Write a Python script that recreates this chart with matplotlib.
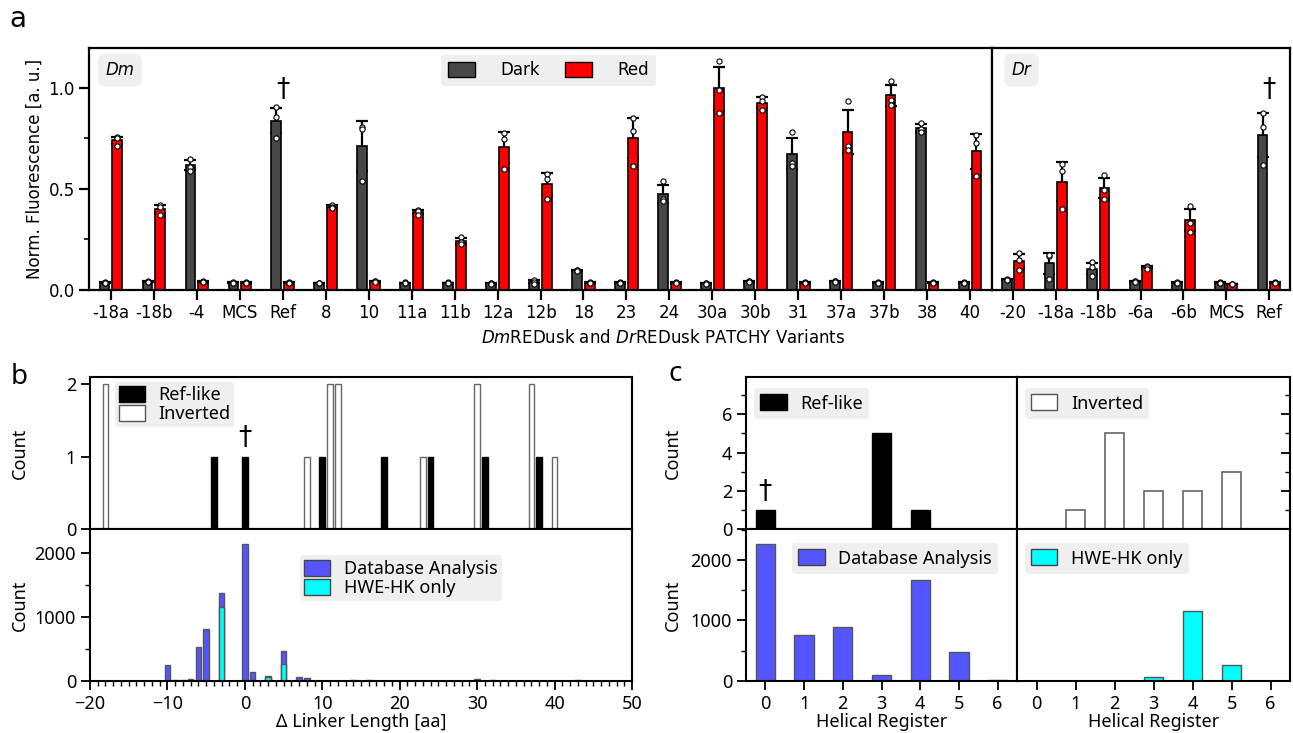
import numpy as np
import matplotlib.pyplot as plt
from matplotlib.patches import Patch
from matplotlib.ticker import MultipleLocator

# ---- panel a: three replicates per variant (dark / red) ----
dm_labels = ['-18a', '-18b', '-4', 'MCS', 'Ref', '8', '10', '11a', '11b', '12a', '12b',
             '18', '23', '24', '30a', '30b', '31', '37a', '37b', '38', '40']
dm_dark = [[0.036, 0.034, 0.035], [0.042, 0.040, 0.039], [0.65, 0.61, 0.59],
           [0.036, 0.035, 0.034], [0.907, 0.855, 0.754], [0.034, 0.033, 0.032],
           [0.807, 0.795, 0.539], [0.036, 0.034, 0.033], [0.036, 0.034, 0.033],
           [0.033, 0.032, 0.030], [0.05, 0.04, 0.03], [0.10, 0.096, 0.094],
           [0.037, 0.035, 0.034], [0.539, 0.448, 0.438], [0.033, 0.031, 0.030],
           [0.044, 0.042, 0.040], [0.783, 0.626, 0.615], [0.045, 0.043, 0.040],
           [0.037, 0.035, 0.034], [0.828, 0.798, 0.783], [0.037, 0.035, 0.034]]
dm_red = [[0.755, 0.75, 0.715], [0.42, 0.41, 0.37], [0.042, 0.040, 0.038],
          [0.036, 0.035, 0.034], [0.036, 0.035, 0.034], [0.42, 0.41, 0.405],
          [0.045, 0.042, 0.038], [0.395, 0.39, 0.37], [0.26, 0.235, 0.225],
          [0.775, 0.745, 0.598], [0.574, 0.547, 0.45], [0.036, 0.035, 0.034],
          [0.85, 0.787, 0.615], [0.036, 0.035, 0.034], [1.134, 0.988, 0.874],
          [0.957, 0.936, 0.89], [0.037, 0.035, 0.034], [0.937, 0.714, 0.694],
          [1.036, 0.942, 0.916], [0.036, 0.035, 0.034], [0.765, 0.729, 0.565]]

dr_labels = ['-20', '-18a', '-18b', '-6a', '-6b', 'MCS', 'Ref']
dr_dark = [[0.053, 0.050, 0.049], [0.165, 0.17, 0.055], [0.136, 0.111, 0.068],
           [0.043, 0.041, 0.039], [0.037, 0.035, 0.034], [0.036, 0.035, 0.034],
           [0.876, 0.808, 0.62]]
dr_red = [[0.182, 0.149, 0.098], [0.621, 0.588, 0.40], [0.569, 0.494, 0.451],
          [0.12, 0.115, 0.105], [0.417, 0.329, 0.288], [0.029, 0.028, 0.027],
          [0.036, 0.035, 0.034]]

# ---- panel b: linker length differences ----
ref_dl = [-4, 0, 10, 18, 24, 31, 38]
ref_n = [1, 1, 1, 1, 1, 1, 1]
inv_dl = [-18, 8, 11, 12, 23, 30, 37, 40]
inv_n = [2, 1, 2, 2, 1, 2, 2, 1]

db_dl = [-10, -9, -8, -7, -6, -5, -3, 0, 1, 3, 5, 7, 8, 14, 16, 30, 32, 43]
db_n = [246, 15, 15, 25, 529, 811, 1372, 2130, 147, 80, 461, 60, 40, 10, 20, 25, 10, 15]
hk_dl = [-3, 3, 5]
hk_n = [1150, 70, 260]

# ---- panel c: helical register ----
registers = [0, 1, 2, 3, 4, 5, 6]
ref_reg = [1, 0, 0, 5, 1, 0, 0]
inv_reg = [0, 1, 5, 2, 2, 3, 0]
db_reg = [2270, 762, 884, 94, 1663, 486, 22]
hk_reg = [0, 0, 0, 72, 1155, 265, 0]

DARK = '#474747'
RED = '#ff0000'
BLUE = '#5555ff'
CYAN = '#00ffff'
BOXC = '#efefef'
FB = 'Noto Sans'
FSB = 13

W, H = 1293, 733
fig = plt.figure(figsize=(W / 100, H / 100), dpi=100)


def rect(x0, y0, x1, y1):
    return [x0 / W, 1 - y1 / H, (x1 - x0) / W, (y1 - y0) / H]


def spines(ax, lw=1.6):
    for s in ax.spines.values():
        s.set_linewidth(lw)


def pairs(ax, labels, dark, red):
    x = np.arange(len(labels))
    for reps, off, col in ((dark, -0.145, DARK), (red, 0.145, RED)):
        reps = np.asarray(reps)
        mean = reps.mean(axis=1)
        sd = reps.std(axis=1)
        ax.errorbar(x + off, mean, yerr=sd, fmt='none', ecolor='black',
                    elinewidth=1.6, capsize=4.2, capthick=1.6, zorder=1)
        ax.bar(x + off, mean, width=0.23, color=col, edgecolor='black',
               linewidth=1.2, zorder=2)
        ax.scatter(np.repeat(x + off, 3), reps.ravel(), s=14, c='white',
                   edgecolors='black', linewidths=0.8, zorder=3)
    ax.set_xticks(x)
    ax.set_xticklabels(labels)
    ax.set_xlim(-0.5, len(labels) - 0.5)
    ax.set_ylim(0, 1.2)
    ax.yaxis.set_major_locator(MultipleLocator(0.5))
    ax.yaxis.set_minor_locator(MultipleLocator(0.25))
    ax.tick_params(which='major', direction='out', length=7, width=1.6, labelsize=12)
    ax.tick_params(which='minor', direction='out', length=3.5, width=1.2)
    spines(ax)


# ---------------- panel a ----------------
ax_dm = fig.add_axes(rect(89.3, 47.7, 991.7, 289.7))
ax_dr = fig.add_axes(rect(991.7, 47.7, 1290, 289.7))
pairs(ax_dm, dm_labels, dm_dark, dm_red)
pairs(ax_dr, dr_labels, dr_dark, dr_red)
ax_dr.tick_params(axis='y', which='both', left=False, labelleft=False)

ax_dm.set_ylabel('Norm. Fluorescence [a. u.]', fontsize=12)
ax_dm.yaxis.set_label_coords(-0.05, 0.5)
ax_dm.text(0.034, 0.908, 'Dm', style='italic', fontsize=12, ha='center', va='center',
           transform=ax_dm.transAxes,
           bbox=dict(boxstyle='round,pad=0.45', fc=BOXC, ec='none'))
ax_dr.text(0.1, 0.908, 'Dr', style='italic', fontsize=12, ha='center', va='center',
           transform=ax_dr.transAxes,
           bbox=dict(boxstyle='round,pad=0.45', fc=BOXC, ec='none'))
ax_dm.text(dm_labels.index('Ref'), 0.99, '†', ha='center', va='center', fontsize=19)
ax_dr.text(dr_labels.index('Ref'), 0.99, '†', ha='center', va='center', fontsize=19)

leg = ax_dm.legend(handles=[Patch(fc=DARK, ec='black', label='Dark'),
                            Patch(fc=RED, ec='black', label='Red')],
                   loc='center', bbox_to_anchor=(0.509, 0.906), ncol=2, fontsize=12,
                   handlelength=1.6, handleheight=1.0, handletextpad=1.55,
                   columnspacing=1.5, facecolor=BOXC, edgecolor='none', framealpha=1,
                   borderpad=0.4)
fig.text(663 / W, 1 - 338 / H, r'$\it{Dm}$REDusk and $\it{Dr}$REDusk PATCHY Variants',
         ha='center', va='center', fontsize=12)


def style_bc(ax):
    spines(ax, 1.5)
    ax.tick_params(which='major', direction='out', length=6.5, width=1.3,
                   labelsize=FSB, labelfontfamily=FB)
    ax.tick_params(which='minor', direction='out', length=3.5, width=1.0)


def box_legend(ax, handles, anchor, **kw):
    return ax.legend(handles=handles, loc='upper left', bbox_to_anchor=anchor,
                     borderaxespad=0, prop={'family': FB, 'size': FSB},
                     handlelength=1.45, handleheight=1.0, handletextpad=0.75,
                     facecolor=BOXC, edgecolor='none', framealpha=1, **kw)


# ---------------- panel b ----------------
axb1 = fig.add_axes(rect(90, 377, 632, 529))
axb2 = fig.add_axes(rect(90, 529, 632, 681))
axb1.bar(inv_dl, inv_n, width=0.72, color='white', edgecolor='#666666', linewidth=1)
axb1.bar(ref_dl, ref_n, width=0.72, color='black', edgecolor='black', linewidth=1)
axb2.bar(db_dl, db_n, width=0.72, color=BLUE, edgecolor='#555555', linewidth=1)
axb2.bar(hk_dl, hk_n, width=0.72, color=CYAN, edgecolor='#555555', linewidth=1)
for ax in (axb1, axb2):
    ax.set_xlim(-20, 50)
    ax.xaxis.set_major_locator(MultipleLocator(10))
    ax.xaxis.set_minor_locator(MultipleLocator(1))
    style_bc(ax)
    ax.set_ylabel('Count', fontsize=FSB, fontfamily=FB)
    ax.yaxis.set_label_coords(-0.112, 0.5)
axb1.set_ylim(0, 2.1)
axb1.set_yticks([0, 1, 2])
axb1.tick_params(axis='x', labelbottom=False)
axb2.set_ylim(0, 2370)
axb2.yaxis.set_major_locator(MultipleLocator(1000))
axb2.yaxis.set_minor_locator(MultipleLocator(500))
axb2.set_xlabel('Δ Linker Length [aa]', fontsize=FSB, fontfamily=FB, labelpad=0)
axb1.text(0, 1.26, '†', ha='center', va='center', fontsize=19)
box_legend(axb1, [Patch(fc='black', ec='black', label='Ref-like'),
                  Patch(fc='white', ec='#555555', label='Inverted')],
           (0.046, 0.967), labelspacing=0.05, borderpad=0.2)
box_legend(axb2, [Patch(fc=BLUE, ec='#444444', label='Database Analysis'),
                  Patch(fc=CYAN, ec='#444444', label='HWE-HK only')],
           (0.387, 0.829), labelspacing=0.05, borderpad=0.25)

# ---------------- panel c ----------------
axc1 = fig.add_axes(rect(746, 377, 1017, 529))
axc2 = fig.add_axes(rect(1017, 377, 1290, 529))
axc3 = fig.add_axes(rect(746, 529, 1017, 681))
axc4 = fig.add_axes(rect(1017, 529, 1290, 681))
axc1.bar(registers, ref_reg, width=0.5, color='black', edgecolor='black', linewidth=1)
axc2.bar(registers, inv_reg, width=0.5, color='white', edgecolor='#666666', linewidth=1.2)
axc3.bar(registers, db_reg, width=0.5, color=BLUE, edgecolor='#555555', linewidth=1)
axc4.bar(registers, hk_reg, width=0.5, color=CYAN, edgecolor='#555555', linewidth=1)
for ax in (axc1, axc2, axc3, axc4):
    ax.set_xlim(-0.5, 6.5)
    ax.set_xticks(registers)
    style_bc(ax)
for ax in (axc1, axc2):
    ax.set_ylim(0, 7.95)
    ax.yaxis.set_major_locator(MultipleLocator(2))
    ax.yaxis.set_minor_locator(MultipleLocator(1))
    ax.tick_params(axis='x', labelbottom=False)
for ax in (axc3, axc4):
    ax.set_ylim(0, 2510)
    ax.yaxis.set_major_locator(MultipleLocator(1000))
    ax.yaxis.set_minor_locator(MultipleLocator(500))
    ax.set_xlabel('Helical Register', fontsize=FSB, fontfamily=FB, labelpad=0)
for ax in (axc1, axc3):
    ax.set_ylabel('Count', fontsize=FSB, fontfamily=FB)
    ax.yaxis.set_label_coords(-0.236, 0.5)
axc2.tick_params(axis='y', which='both', left=False, labelleft=False,
                 right=True, direction='in')
axc4.tick_params(axis='y', which='both', left=False, labelleft=False)
axc1.text(0, 1.95, '†', ha='center', va='center', fontsize=19)
box_legend(axc1, [Patch(fc='black', ec='black', label='Ref-like')], (0.03, 0.928),
           borderpad=0.35)
box_legend(axc2, [Patch(fc='white', ec='#555555', label='Inverted')], (0.029, 0.928),
           borderpad=0.35)
box_legend(axc3, [Patch(fc=BLUE, ec='#444444', label='Database Analysis')], (0.17, 0.908),
           borderpad=0.35)
box_legend(axc4, [Patch(fc=CYAN, ec='#444444', label='HWE-HK only')], (0.029, 0.908),
           borderpad=0.35)

# panel letters
fig.text(18 / W, 1 - 19 / H, 'a', fontsize=20, ha='center', va='center')
fig.text(19 / W, 1 - 377 / H, 'b', fontsize=20, ha='center', va='center', fontfamily=FB)
fig.text(675 / W, 1 - 374 / H, 'c', fontsize=20, ha='center', va='center', fontfamily=FB)

fig.savefig('out.png', dpi=100)
